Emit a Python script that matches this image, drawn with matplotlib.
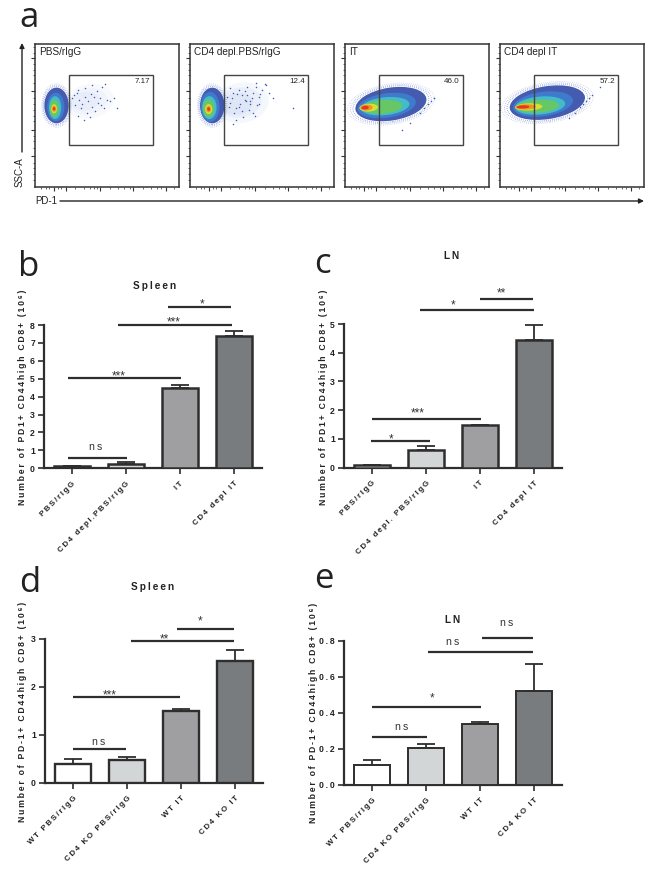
import matplotlib
matplotlib.use("Agg")
import matplotlib.pyplot as plt
from matplotlib.patches import Ellipse, Rectangle

W, H = 648, 869
FONT = ['Liberation Sans', 'DejaVu Sans']
plt.rcParams['font.family'] = FONT

# flow panels (positions in % of the plot box)
flow_names = ["PBS/rIgG", "CD4 depl.PBS/rIgG", "IT", "CD4 depl IT"]
flow_pct = ["7.17", "12.4", "46.0", "57.2"]
flow_left = [35, 190, 345, 500]
flow_colors = ['#2f49a8', '#3f7fd0', '#45c4c8', '#6cc95a', '#e8e030', '#f08a24', '#e5301f']
# each level: cx, cy, w, h, angle
flow_blobs = [
    [(15, 57, 17, 25, 0), (14.5, 56, 12, 20, 0), (14, 55.5, 8.5, 16, 0), (13.5, 55, 6.5, 12, 0),
     (13.3, 54.7, 4, 6.5, 0), (13.3, 54.7, 2.8, 4.2, 0), (13.3, 54.7, 1.7, 2.2, 0)],
    [(15.5, 57, 17, 25, 0), (14, 56, 13, 21, 0), (13.5, 55.5, 10, 16, 0), (13, 55, 8, 12.5, 0),
     (13, 54.5, 5, 7, 0), (13, 54.5, 3.2, 4.5, 0), (13, 54.5, 2, 2.4, 0)],
    [(32, 58, 50, 23, 9), (29, 57, 41, 17, 8), (28, 56.5, 34, 12.5, 6), (26, 56, 28, 9.5, 4),
     (16.5, 55.5, 13, 5.5, 3), (15, 55.5, 8.5, 4, 3), (14, 55.5, 5, 2.6, 3)],
    [(33, 59, 53, 23, 9), (30, 58, 42, 17, 8), (28, 57, 35, 12.5, 5), (26, 56.5, 30, 9, 3),
     (20, 56, 19, 5, 2), (18, 56, 14, 3.6, 2), (16, 56, 9, 2.2, 2)],
]
# faint clouds of events: cx, cy, w, h, angle, alpha
flow_clouds = [
    [(38, 60, 34, 24, 10, 0.05), (37, 60, 27, 18, 10, 0.05), (35, 60, 20, 13, 10, 0.05)],
    [(36, 59, 38, 28, 10, 0.07), (35, 59, 30, 21, 10, 0.08), (33, 58, 22, 15, 10, 0.08)],
    [],
    [],
]
sparse_x = [
    [27, 29, 31, 33, 35, 37, 39, 41, 43, 45, 47, 49, 28, 32, 36, 40, 44, 48, 26, 30, 34, 38, 42, 46, 50, 30, 35, 40, 52, 55, 57],
    [26, 28, 30, 32, 34, 36, 38, 40, 42, 44, 46, 48, 50, 52, 27, 29, 31, 33, 35, 37, 39, 41, 43, 45, 47, 49, 28, 32, 36, 40, 44, 48, 30, 34, 38, 42, 46, 53, 55, 58, 72],
    [52, 55, 58, 60, 62, 40, 45, 62],
    [56, 58, 60, 62, 64, 70, 48, 52],
]
sparse_y = [
    [64, 66, 61, 58, 69, 60, 65, 63, 67, 62, 70, 72, 57, 55, 52, 56, 59, 55, 62, 50, 47, 49, 53, 57, 61, 68, 63, 71, 60, 62, 55],
    [63, 59, 66, 55, 68, 53, 61, 64, 58, 66, 70, 63, 68, 72, 56, 62, 52, 65, 58, 49, 60, 54, 62, 50, 57, 65, 69, 47, 64, 70, 52, 58, 44, 56, 67, 60, 73, 71, 66, 62, 55],
    [52, 55, 58, 60, 62, 40, 45, 62],
    [56, 58, 60, 62, 64, 70, 48, 52],
]
gate_x = [24, 82]
gate_y = [29.5, 78.6]
flow_major_y = [90.2, 67.4, 40, 22]
flow_minor_y = [5, 9, 13, 17, 27, 32, 36, 46, 50, 54, 58, 62, 73, 78, 82, 86, 94, 98]
flow_major_x = [13, 21.5, 45, 68.5, 91]
flow_minor_x = [4, 8, 10, 16, 18, 28, 34, 38, 41, 43, 52, 58, 62, 66, 75, 81, 85, 88, 97]

# bar panels
labels_top = ["PBS/rIgG", "CD4 depl.PBS/rIgG", "IT", "CD4 depl IT"]
labels_c = ["PBS/rIgG", "CD4 depl. PBS/rIgG", "IT", "CD4 depl IT"]
labels_bot = ["WT PBS/rIgG", "CD4 KO PBS/rIgG", "WT IT", "CD4 KO IT"]
bar_colors = ['#ffffff', '#d3d6d6', '#9f9fa2', '#797c7e']
edge = '#2e2e2e'

b_vals = [0.13, 0.24, 4.48, 7.40]
b_tops = [0.15, 0.33, 4.67, 7.68]
c_vals = [0.08, 0.60, 1.47, 4.43]
c_tops = [0.10, 0.77, 1.50, 4.98]
d_vals = [0.40, 0.47, 1.49, 2.54]
d_tops = [0.49, 0.55, 1.545, 2.77]
e_vals = [0.109, 0.207, 0.34, 0.524]
e_tops = [0.14, 0.23, 0.352, 0.67]

# brackets: x0, x1, y, label, label x, label y
b_sig = [(-0.07, 1.01, 0.60, "ns", 0.43, 1.21), (-0.07, 2.01, 5.06, "***", 0.87, 5.25),
         (0.86, 2.97, 8.02, "***", 1.89, 8.26), (1.77, 2.94, 8.99, "*", 2.40, 9.25)]
c_sig = [(-0.02, 1.07, 0.93, "*", 0.35, 1.04), (0.0, 2.02, 1.68, "***", 0.85, 1.97),
         (0.88, 3.0, 5.49, "*", 1.51, 5.71), (2.0, 2.98, 5.87, "**", 2.40, 6.15)]
d_sig = [(0.0, 0.99, 0.70, "ns", 0.48, 0.86), (0.0, 1.99, 1.79, "***", 0.67, 1.87),
         (1.08, 2.98, 2.96, "**", 1.70, 3.03), (1.93, 2.98, 3.21, "*", 2.36, 3.40)]
e_sig = [(0.0, 1.02, 0.268, "ns", 0.54, 0.32), (0.0, 2.01, 0.433, "*", 1.12, 0.494),
         (1.04, 2.98, 0.737, "ns", 1.49, 0.796), (2.04, 2.99, 0.815, "ns", 2.50, 0.898)]


def spaced(s):
    # the figure's bold labels are widely tracked
    return "\u2009".join(s)


fig = plt.figure(figsize=(W / 100, H / 100), dpi=100)


def new_ax(left, top, right, bottom):
    return fig.add_axes([left / W, 1 - bottom / H, (right - left) / W, (bottom - top) / H])


def px_text(x, y, s, **kw):
    return fig.text(x / W, 1 - y / H, s, **kw)


for i, left in enumerate(flow_left):
    ax = new_ax(left, 44, left + 143.5, 187)
    ax.set_xlim(0, 100)
    ax.set_ylim(0, 100)
    for cx, cy, w, h, ang, al in flow_clouds[i]:
        ax.add_patch(Ellipse((cx, cy), w, h, angle=ang, color='#6f8fd8', lw=0, alpha=al))
    # speckled rim of events around the dense core
    outer = flow_blobs[i][0]
    for grow, al in [(1.22, 0.35), (1.14, 0.55), (1.07, 0.8)]:
        ax.add_patch(Ellipse(outer[:2], outer[2] * grow, outer[3] * grow, angle=outer[4], fill=False,
                             ec='#3f5fc0', lw=0.7, ls=(0, (0.6, 1.4)), alpha=al))
    for level, col in zip(flow_blobs[i], flow_colors):
        cx, cy, w, h, ang = level
        ax.add_patch(Ellipse((cx, cy), w, h, angle=ang, color=col, lw=0, alpha=0.9))
    ax.scatter(sparse_x[i], sparse_y[i], s=1.2, color='#3b5fb5', lw=0)
    ax.add_patch(Rectangle((gate_x[0], gate_y[0]), gate_x[1] - gate_x[0], gate_y[1] - gate_y[0],
                           fill=False, ec='#444444', lw=1.0))
    ax.text(3, 94.5, flow_names[i], fontsize=7.2, color='#222222', va='center')
    ax.text(80, 73.5, flow_pct[i], fontsize=5.8, color='#222222', ha='right', va='center')
    ax.set_xticks(flow_major_x)
    ax.set_yticks(flow_major_y)
    ax.set_xticks(flow_minor_x, minor=True)
    ax.set_yticks(flow_minor_y, minor=True)
    ax.tick_params(which='major', length=2.6, width=0.8, labelbottom=False, labelleft=False, color='#333333')
    ax.tick_params(which='minor', length=1.4, width=0.5, color='#333333')
    for sp in ax.spines.values():
        sp.set_linewidth(1.1)
        sp.set_color('#333333')

over = fig.add_axes([0, 0, 1, 1])
over.set_xlim(0, W)
over.set_ylim(H, 0)
over.axis('off')
arrow = dict(arrowstyle='-|>', color='#222222', lw=1.0, mutation_scale=7, shrinkA=0, shrinkB=0)
over.annotate("", xy=(22, 43), xytext=(22, 152), arrowprops=arrow)
over.annotate("", xy=(644, 201), xytext=(60, 201), arrowprops=arrow)
px_text(20, 172, "SSC-A", fontsize=7, rotation=90, ha='center', va='center', color='#222222')
px_text(35, 201, "PD-1", fontsize=7, ha='left', va='center', color='#222222')


def bars(box, ylim, yticks, fmt, vals, tops, labels, sig, lw):
    ax = new_ax(*box)
    ax.set_xlim(-0.52, 3.52)
    ax.set_ylim(*ylim)
    pos = range(4)
    ax.bar(pos, vals, width=0.68, color=bar_colors, edgecolor=edge, linewidth=lw, zorder=3)
    for x, v, t in zip(pos, vals, tops):
        ax.errorbar(x, v, yerr=[[0], [t - v]], color=edge, capsize=6.5, capthick=1.3, elinewidth=1.3, zorder=2)
    ax.set_xticks(list(pos))
    ax.set_xticklabels([spaced(s) for s in labels], rotation=45, ha='right', rotation_mode='anchor',
                       fontsize=5.7, fontweight='bold', color='#222222')
    ax.set_yticks(yticks)
    ax.set_yticklabels([spaced(fmt % t) for t in yticks], fontsize=6.2, fontweight='bold', color='#222222')
    ax.tick_params(axis='both', length=4, width=1.2, color=edge, pad=2.5)
    ax.tick_params(axis='x', pad=4.5)
    for name in ['top', 'right']:
        ax.spines[name].set_visible(False)
    for name in ['left', 'bottom']:
        ax.spines[name].set_linewidth(1.6)
        ax.spines[name].set_color(edge)
    for x0, x1, y, lab, lx, ly in sig:
        ax.plot([x0, x1], [y, y], color=edge, lw=1.6, clip_on=False, solid_capstyle='butt')
        if lab == "ns":
            ax.text(lx, ly, spaced(lab), fontsize=7.6, ha='center', va='center', color='#333333', clip_on=False)
        else:
            # asterisks sit high in their box, so pull them down to the line
            ax.annotate(lab, (lx, ly), xytext=(0, -1.5), textcoords='offset points', fontsize=8.5,
                        ha='center', va='center', color='#333333', annotation_clip=False)
    return ax


bars((44, 325, 262, 468.3), (0, 8), [0, 1, 2, 3, 4, 5, 6, 7, 8], "%d", b_vals, b_tops, labels_top, b_sig, 1.8)
bars((344, 324, 562, 467.7), (0, 5), [0, 1, 2, 3, 4, 5], "%d", c_vals, c_tops, labels_c, c_sig, 1.8)
bars((45, 639, 263, 783), (0, 3), [0, 1, 2, 3], "%d", d_vals, d_tops, labels_bot, d_sig, 1.7)
bars((344, 641, 562, 785), (0, 0.8), [0.0, 0.2, 0.4, 0.6, 0.8], "%.1f", e_vals, e_tops, labels_bot, e_sig, 1.4)

ylab_pd1 = spaced("Number of PD1+ CD44high CD8+ (10\u2076)")
ylab_pd_1 = spaced("Number of PD-1+ CD44high CD8+ (10\u2076)")
for x, y, s in [(23, 397, ylab_pd1), (323, 397, ylab_pd1), (23, 712, ylab_pd_1), (313, 713, ylab_pd_1)]:
    px_text(x, y, s, fontsize=6.2, fontweight='bold', rotation=90, ha='center', va='center', color='#222222')

for x, y, s in [(155, 286, "Spleen"), (452, 256, "LN"), (153, 587, "Spleen"), (453, 620, "LN")]:
    px_text(x, y, spaced(s), fontsize=7.2, fontweight='bold', ha='center', va='center', color='#222222')

for x, y, s in [(19, 27, "a"), (18, 276, "b"), (314, 273, "c"), (19, 592, "d"), (314, 588, "e")]:
    px_text(x, y, s, fontsize=25, ha='left', va='baseline', color='#222222', family=['Open Sans', 'DejaVu Sans'])

fig.savefig("out.png", dpi=100)
